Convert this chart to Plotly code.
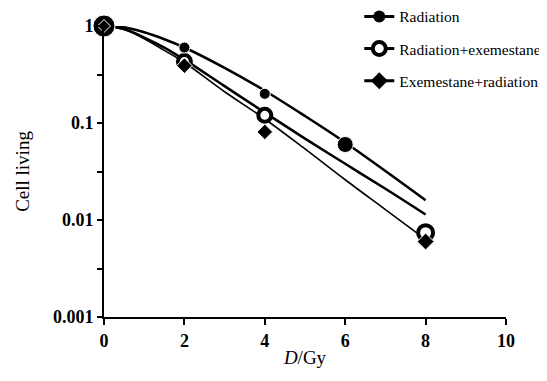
import plotly.graph_objects as go

# measured survival points
dose_rad = [0, 2, 4, 6]
surv_rad = [1, 0.6, 0.2, 0.06]
dose_re = [0, 2, 4, 8]
surv_re = [1, 0.43, 0.12, 0.0074]
dose_er = [0, 2, 4, 8]
surv_er = [1, 0.39, 0.081, 0.006]

# fitted curves
fit_dose = [0, 0.5, 1, 1.5, 2, 3, 4, 5, 6, 7, 8]
fit_rad = [1, 0.97, 0.86, 0.73, 0.6, 0.37, 0.215, 0.118, 0.063, 0.032, 0.016]
fit_re = [1, 0.93, 0.76, 0.6, 0.45, 0.24, 0.128, 0.069, 0.038, 0.021, 0.0114]
fit_er = [1, 0.92, 0.74, 0.56, 0.42, 0.21, 0.11, 0.054, 0.026, 0.0128, 0.0063]

names = ["Radiation", "Radiation+exemestane", "Exemestane+radiation"]

y_tickvals = [0.001, 0.00316, 0.01, 0.0316, 0.1, 0.316, 1]
y_ticktext = ["0.001", "", "0.01", "", "0.1", "", "1"]
x_tickvals = [0, 2, 4, 6, 8, 10]

FONT = "Times New Roman, Liberation Serif, serif"
fig = go.Figure()

# curves
fig.add_trace(go.Scatter(x=fit_dose, y=fit_rad, mode="lines", line=dict(color="black", width=2.6, shape="spline"), showlegend=False))
fig.add_trace(go.Scatter(x=fit_dose, y=fit_re, mode="lines", line=dict(color="black", width=2.6, shape="spline"), showlegend=False))
fig.add_trace(go.Scatter(x=fit_dose, y=fit_er, mode="lines", line=dict(color="black", width=1.6, shape="spline"), showlegend=False))

# points
fig.add_trace(go.Scatter(x=dose_re, y=surv_re, mode="markers", showlegend=False,
                         marker=dict(symbol="circle", size=[14, 13, 13, 15], color="white", opacity=1,
                                     line=dict(color="black", width=4))))
fig.add_trace(go.Scatter(x=dose_rad, y=surv_rad, mode="markers", showlegend=False,
                         marker=dict(symbol="circle", size=[22, 11, 11, 16], color="black", opacity=1)))
fig.add_trace(go.Scatter(x=dose_er, y=surv_er, mode="markers", showlegend=False,
                         marker=dict(symbol="diamond", size=[10, 12, 12, 13], color="black", opacity=1)))

# legend entries
fig.add_trace(go.Scatter(x=[None], y=[None], mode="lines+markers", name=names[0], legendgroup="a",
                         line=dict(color="black", width=3), marker=dict(symbol="circle", size=12, color="black")))
fig.add_trace(go.Scatter(x=[None], y=[None], mode="lines+markers", name=names[1], legendgroup="b",
                         line=dict(color="black", width=3),
                         marker=dict(symbol="circle", size=13, color="white", line=dict(color="black", width=4))))
fig.add_trace(go.Scatter(x=[None], y=[None], mode="lines+markers", name=names[2], legendgroup="c",
                         line=dict(color="black", width=3), marker=dict(symbol="diamond", size=13, color="black")))

fig.update_layout(
    width=547, height=381,
    margin=dict(l=96, r=49, t=18, b=72, autoexpand=False),
    paper_bgcolor="white", plot_bgcolor="white",
    font=dict(family=FONT, color="black", size=13),
    showlegend=True,
    legend=dict(x=0.635, y=1.09, xanchor="left", yanchor="top", bgcolor="rgba(0,0,0,0)",
                font=dict(family=FONT, size=15.5, color="black"), tracegroupgap=9, itemwidth=30),
    xaxis=dict(range=[0, 10], tickvals=x_tickvals, ticks="outside", ticklen=6, tickwidth=1.5,
               tickcolor="black", automargin=False,
               showline=True, linecolor="black", linewidth=2, showgrid=False, zeroline=False,
               tickfont=dict(family=FONT, size=18, color="black", weight="bold"),
               title=dict(text="<i>D</i>/Gy", font=dict(family=FONT, size=19, color="black"), standoff=1)),
    yaxis=dict(type="log", range=[-3, 0], tickvals=y_tickvals, ticktext=y_ticktext,
               ticks="outside", ticklen=5, tickwidth=1.5, tickcolor="black", automargin=False,
               showline=True, linecolor="black", linewidth=2, showgrid=False, zeroline=False,
               tickfont=dict(family=FONT, size=18, color="black", weight="bold"),
               title=dict(text="Cell living", font=dict(family=FONT, size=19, color="black"), standoff=18)),
)
fig.update_traces(cliponaxis=False)

fig.write_html("out.html")
